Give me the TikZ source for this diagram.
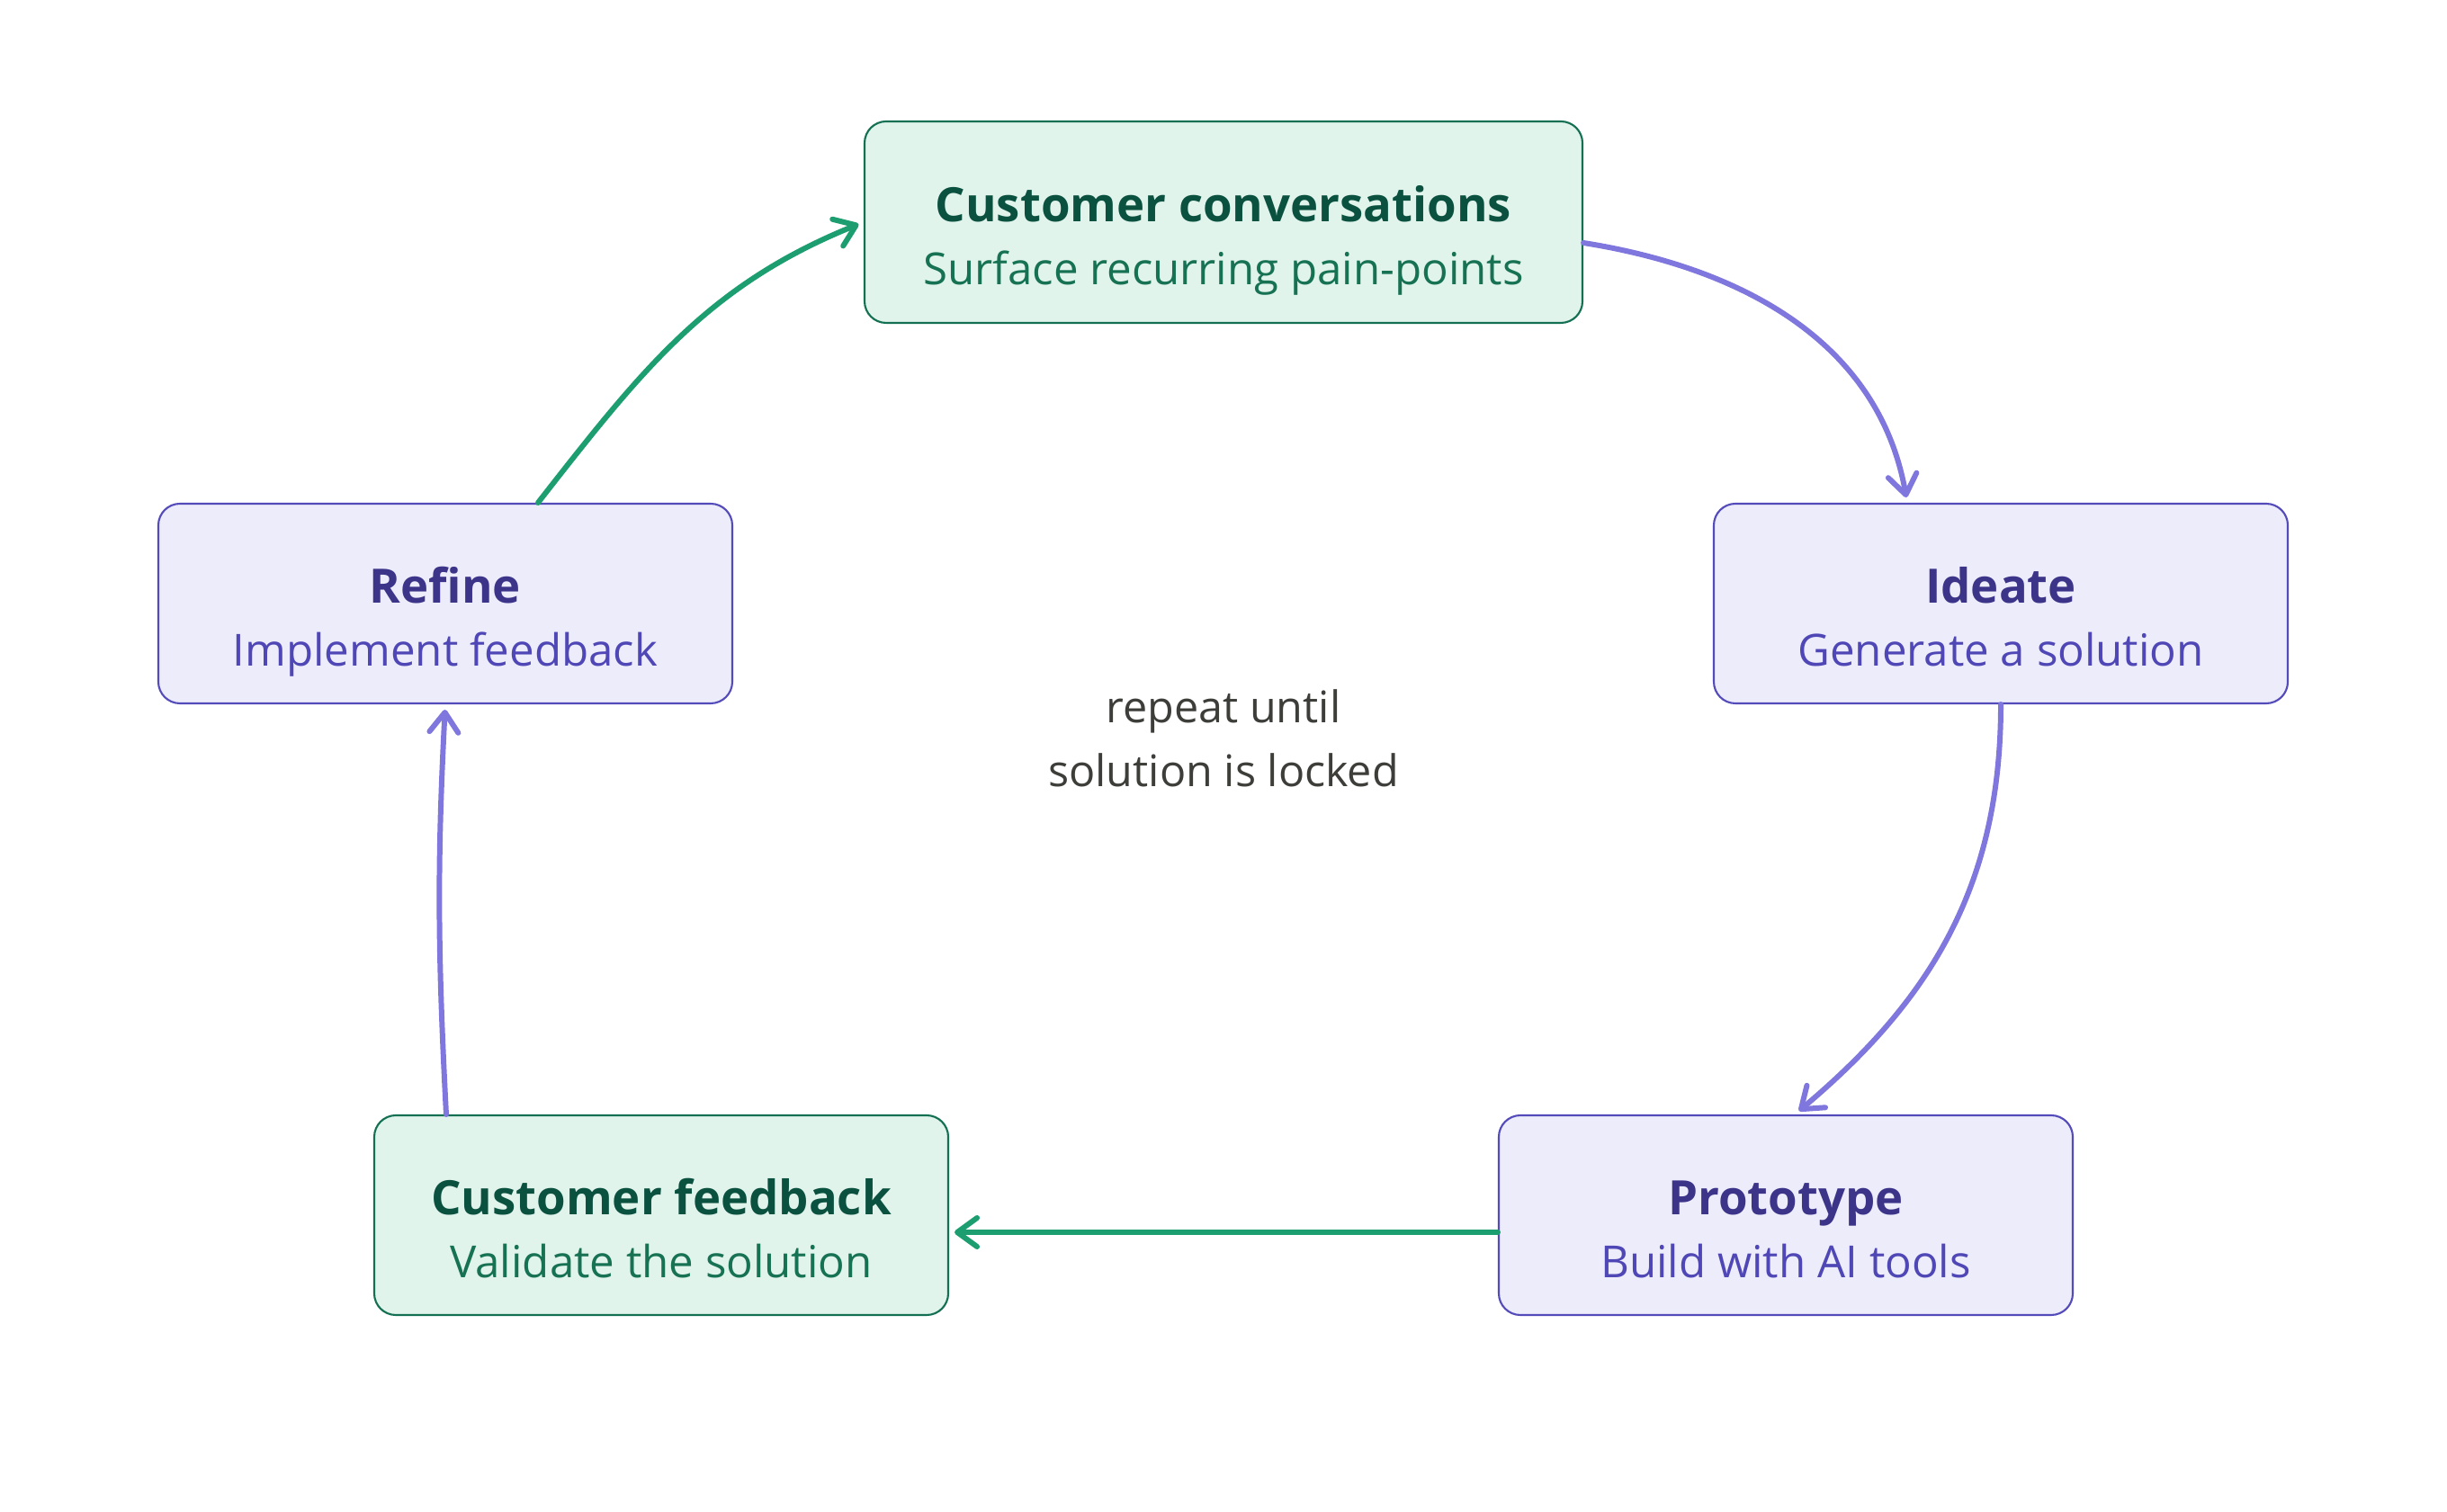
\documentclass[tikz,border=0pt]{standalone}
\usepackage{fontspec}
\setmainfont{Open Sans}
\usetikzlibrary{arrows.meta}
\definecolor{greenfill}{HTML}{E1F4EC}
\definecolor{greenline}{HTML}{137052}
\definecolor{greentitle}{HTML}{0B5140}
\definecolor{greensub}{HTML}{167253}
\definecolor{greenarrow}{HTML}{1C9E71}
\definecolor{purplefill}{HTML}{EDECFB}
\definecolor{purpleline}{HTML}{544BBA}
\definecolor{purpletitle}{HTML}{3C3489}
\definecolor{purplesub}{HTML}{5047B6}
\definecolor{purplearrow}{HTML}{7F77DD}
\definecolor{loopgray}{HTML}{3D3D3A}

% title line over subtitle line, with fixed struts so all boxes line up
\newcommand{\stagetext}[3]{%
  {\fontsize{15}{19.8}\selectfont\bfseries\color{#1}\rule{0pt}{23.5pt}#2}\\\rule[-4pt]{0pt}{4pt}#3}

\tikzset{
  stagebox/.style={draw, rounded corners=0.24cm, line width=0.6pt, align=center,
    minimum width=6.38cm, minimum height=2.22cm, inner sep=0pt,
    font=\fontsize{14}{19.8}\selectfont},
  greenbox/.style={stagebox, draw=greenline, fill=greenfill, text=greensub},
  purplebox/.style={stagebox, draw=purpleline, fill=purplefill, text=purplesub},
  flow/.style={line width=1.7pt, line cap=round, shorten >=0.06cm,
    -{Straight Barb[length=2.2mm, width=3.2mm, round]}},
  greenflow/.style={flow, draw=greenarrow},
  purpleflow/.style={flow, draw=purplearrow}
}

\begin{document}
\begin{tikzpicture}
\useasboundingbox (0,0) rectangle (27.2,16.8);

% the five stages
\node[greenbox, minimum width=7.98cm, minimum height=2.24cm] (talk) at (13.6,14.33)
  {\stagetext{greentitle}{Customer conversations}{Surface recurring pain-points}};
\node[purplebox] (ideate) at (22.24,10.09)
  {\stagetext{purpletitle}{Ideate}{Generate a solution}};
\node[purplebox] (proto) at (19.85,3.29)
  {\stagetext{purpletitle}{Prototype}{Build with AI tools}};
\node[greenbox] (feedback) at (7.35,3.29)
  {\stagetext{greentitle}{Customer feedback}{Validate the solution}};
\node[purplebox] (refine) at (4.95,10.09)
  {\stagetext{purpletitle}{Refine}{Implement feedback}};

\node[align=center, text=loopgray, font=\fontsize{13.8}{20.2}\selectfont] (loop) at (13.6,8.59)
  {repeat until\\solution is locked};

% the loop
\draw[purpleflow] ([yshift=-0.23cm]talk.east) to[out=-9, in=100] ([xshift=-1.04cm]ideate.north);
\draw[purpleflow] (ideate.south) to[out=-90, in=40] ([xshift=0.1cm]proto.north);
\draw[greenflow] ([yshift=-0.19cm]proto.west) -- ([yshift=-0.19cm]feedback.east);
\draw[purpleflow] ([xshift=-2.39cm]feedback.north) to[out=93, in=-93] (refine.south);
\draw[greenflow] ([xshift=1.03cm]refine.north) to[out=52, in=202] (talk.west);
\end{tikzpicture}
\end{document}
